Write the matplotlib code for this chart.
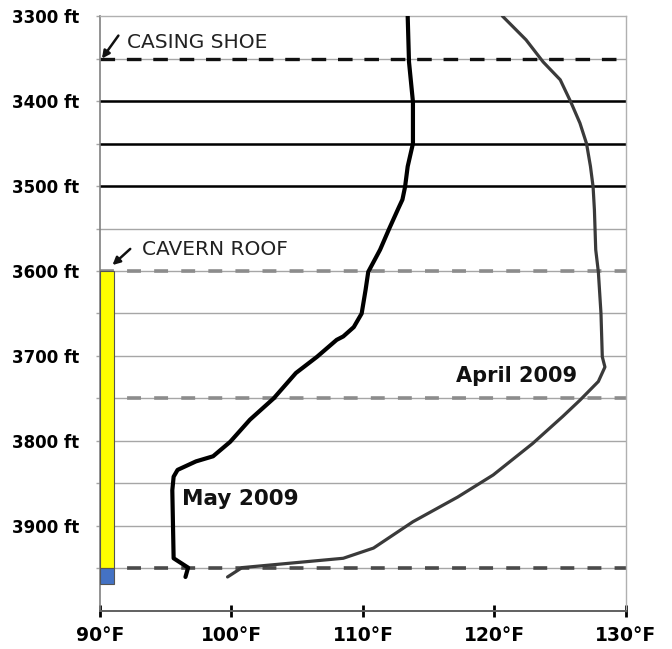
import numpy as np
import matplotlib
matplotlib.use('Agg')
import matplotlib.pyplot as plt

plt.rcParams['font.family'] = ['DejaVu Sans']
plt.rcParams['lines.scale_dashes'] = False

# temperature log, May 2009 (depth in ft, temperature in F)
may_depth = [3300, 3354, 3401, 3450, 3477, 3501, 3516, 3526, 3550, 3575, 3601, 3622,
             3650, 3666, 3677, 3681, 3701, 3720, 3750, 3775, 3801, 3818, 3824, 3834,
             3842, 3858, 3938, 3949, 3960]
may_temp = [113.4, 113.5, 113.8, 113.8, 113.4, 113.2, 113.0, 112.7, 112.0, 111.3, 110.4, 110.2,
            109.9, 109.3, 108.5, 108.0, 106.5, 104.9, 103.2, 101.4, 99.9, 98.6, 97.3, 95.9,
            95.6, 95.5, 95.6, 96.7, 96.5]

# temperature log, April 2009
apr_depth = [3300, 3328, 3354, 3375, 3401, 3426, 3450, 3477, 3501, 3528, 3575, 3601,
             3650, 3701, 3713, 3730, 3752, 3771, 3803, 3840, 3866, 3895, 3926, 3938,
             3949, 3960]
apr_temp = [120.6, 122.4, 123.7, 125.0, 125.8, 126.5, 127.0, 127.3, 127.5, 127.6, 127.7, 127.9,
            128.1, 128.2, 128.4, 127.9, 126.5, 125.2, 122.9, 119.9, 117.2, 113.8, 110.8, 108.5,
            100.8, 99.7]

casing_shoe = 3350
black_lines = [3400, 3450, 3500]
gray_dashed = [3600, 3750]
cavern_floor = 3950
cavern_roof = 3600
sump_bottom = 3968

x_ticks = [90, 100, 110, 120, 130]
x_labels = ['90°F', '100°F', '110°F', '120°F', '130°F']
y_ticks = [3300, 3400, 3500, 3600, 3700, 3800, 3900]
y_labels = ['3300 ft', '3400 ft', '3500 ft', '3600 ft', '3700 ft', '3800 ft', '3900 ft']

fig = plt.figure(figsize=(6.72, 6.49), dpi=100)
ax = fig.add_axes([0.1488, 0.0586, 0.7827, 0.9167])

# light horizontal grid every 50 ft
for d in np.arange(3350, 4000, 50):
    ax.axhline(d, color='#a6a6a6', lw=1.0, zorder=1)

for d in black_lines:
    ax.axhline(d, color='black', lw=1.8, zorder=2)
ax.axhline(casing_shoe, color='#111111', lw=2.4, ls=(0, (10.5, 8.5)), zorder=2)
for d in gray_dashed:
    ax.axhline(d, color='#8c8c8c', lw=2.6, ls=(0, (10, 9.5)), zorder=2)
ax.axhline(cavern_floor, color='#4a4a4a', lw=2.6, ls=(0, (10, 9.5)), zorder=2)

# cavern column
ax.bar(90, cavern_floor - cavern_roof, bottom=cavern_roof, width=1.06, align='edge',
       color='#ffff00', edgecolor='#555555', lw=0.8, zorder=3)
ax.bar(90, sump_bottom - cavern_floor, bottom=cavern_floor, width=1.06, align='edge',
       color='#4472c4', edgecolor='#555555', lw=0.8, zorder=3)

ax.plot(apr_temp, apr_depth, color='#3a3a3a', lw=2.3, zorder=4,
        solid_joinstyle='round', solid_capstyle='round')
ax.plot(may_temp, may_depth, color='black', lw=3.0, zorder=5,
        solid_joinstyle='round', solid_capstyle='round')

ax.text(100.65, 3868, 'May 2009', fontsize=15.5, fontweight='bold', ha='center', va='center',
        color='#111111')
ax.text(121.7, 3724, 'April 2009', fontsize=15, fontweight='bold', ha='center', va='center',
        color='#111111')

ax.text(92.05, 3331, 'CASING SHOE', fontsize=14.5, color='#222222', va='center', ha='left')
ax.annotate('', xy=(90.15, 3350), xytext=(91.4, 3323),
            arrowprops=dict(arrowstyle='-|>', color='#111111', lw=1.8, shrinkA=0, shrinkB=0,
                            mutation_scale=11))
ax.text(93.2, 3575, 'CAVERN ROOF', fontsize=14.5, color='#222222', va='center', ha='left')
ax.annotate('', xy=(90.95, 3593), xytext=(92.3, 3574),
            arrowprops=dict(arrowstyle='-|>', color='#111111', lw=1.8, shrinkA=0, shrinkB=0,
                            mutation_scale=11))

ax.set_xlim(90, 130)
ax.set_ylim(4000, 3300)
ax.set_xticks(x_ticks)
ax.set_xticklabels(x_labels, fontsize=13.5, fontweight='bold')
ax.set_yticks(y_ticks)
ax.set_yticklabels(y_labels, fontsize=12, fontweight='bold')
ax.set_yticks(np.arange(3350, 4000, 100), minor=True)
ax.tick_params(axis='x', direction='inout', length=9, width=2, color='black', pad=6)
ax.tick_params(axis='y', which='both', direction='out', length=3, width=1, color='#a6a6a6', pad=12)

for side in ['top', 'right']:
    ax.spines[side].set_color('#b0b0b0')
    ax.spines[side].set_linewidth(1.0)
ax.spines['left'].set_color('#808080')
ax.spines['left'].set_linewidth(1.2)
ax.spines['bottom'].set_color('#606060')
ax.spines['bottom'].set_linewidth(1.4)

fig.savefig('out.png', dpi=100)
